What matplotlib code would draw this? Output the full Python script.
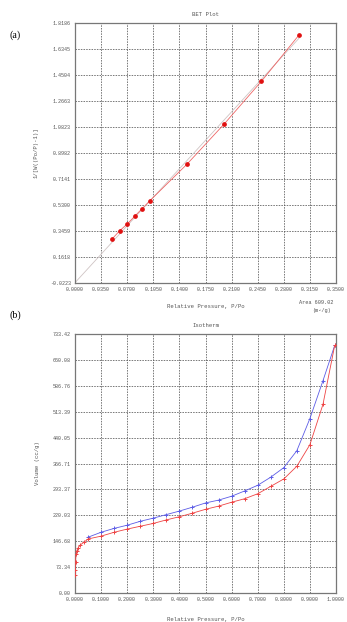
#!/usr/bin/env python3
"""BET plot and isotherm, two stacked panels."""

import matplotlib
matplotlib.use("Agg")
import matplotlib.pyplot as plt

# BET plot data
bet_p = [0.05, 0.06, 0.07, 0.08, 0.09, 0.10, 0.15, 0.20, 0.25, 0.30]
bet_y = [0.289, 0.346, 0.393, 0.448, 0.502, 0.556, 0.816, 1.101, 1.404, 1.729]
fit_p = [0.0, 0.301]
fit_y = [-0.0223, 1.712]
bet_yticks = [-0.0223, 0.1618, 0.3459, 0.5300, 0.7141, 0.8982,
              1.0823, 1.2663, 1.4504, 1.6345, 1.8186]
bet_xticks = [0.0, 0.035, 0.070, 0.105, 0.140, 0.175, 0.210, 0.245, 0.280, 0.315, 0.350]
area = "609.02"

# isotherm data
ads_p = [0.0003, 0.0008, 0.002, 0.004, 0.007, 0.012, 0.02, 0.035,
         0.05, 0.10, 0.15, 0.20, 0.25, 0.30, 0.35, 0.40, 0.45, 0.50,
         0.55, 0.60, 0.65, 0.70, 0.75, 0.80, 0.85, 0.90, 0.95, 0.995]
ads_v = [51, 65, 89, 110, 120, 128, 136, 144,
         153, 161, 172, 181, 189, 197, 207, 216, 226, 237,
         246, 257, 267, 281, 302, 323, 359, 420, 534, 701]
des_p = [0.05, 0.10, 0.15, 0.20, 0.25, 0.30, 0.35, 0.40, 0.45, 0.50,
         0.55, 0.60, 0.65, 0.70, 0.75, 0.80, 0.85, 0.90, 0.95, 0.995]
des_v = [158, 172, 183, 192, 203, 212, 222, 232, 243, 255,
         263, 274, 289, 305, 328, 355, 403, 494, 601, 701]
iso_yticks = [0.00, 73.34, 146.68, 220.03, 293.37, 366.71, 440.05,
              513.39, 586.76, 660.08, 733.42]
iso_xticks = [0.0, 0.1, 0.2, 0.3, 0.4, 0.5, 0.6, 0.7, 0.8, 0.9, 1.0]

MONO = "Liberation Mono"
TXT = "#555555"
W, H = 347, 622


def style_axes(ax, xticks, yticks, xfmt, yfmt):
    ax.set_xlim(xticks[0], xticks[-1])
    ax.set_ylim(yticks[0], yticks[-1])
    ax.set_xticks(xticks)
    ax.set_yticks(yticks)
    ax.set_xticklabels([xfmt % v for v in xticks], family=MONO, fontsize=3.6, color=TXT)
    ax.set_yticklabels([yfmt % v for v in yticks], family=MONO, fontsize=3.6, color=TXT)
    ax.tick_params(length=0, pad=3)
    ax.grid(True, color="#555555", linestyle=(0, (2, 1.5)), linewidth=0.55)
    for spine in ax.spines.values():
        spine.set_color("#777777")
        spine.set_linewidth(0.9)


fig = plt.figure(figsize=(W / 100, H / 100), dpi=100)

# (a) BET plot
ax1 = fig.add_axes([75 / W, 1 - 282.7 / H, 261 / W, 260 / H])
style_axes(ax1, bet_xticks, bet_yticks, "%.4f", "%.4f")
ax1.plot(fit_p, fit_y, color="#cfc4c4", linewidth=0.6, zorder=2)
ax1.plot(bet_p, bet_y, color="#ee6666", linewidth=0.6, zorder=3)
ax1.plot(bet_p, bet_y, linestyle="none", marker="o", markersize=2.4,
         color="#e01010", zorder=4)
ax1.set_title("BET Plot", family=MONO, fontsize=4.1, color=TXT, pad=5)
ax1.set_xlabel("Relative Pressure, P/Po", family=MONO, fontsize=4.1, color=TXT, labelpad=9)
ax1.set_ylabel("1/[W((Po/P)-1)]", family=MONO, fontsize=4.1, color=TXT, labelpad=8)
fig.text(333 / W, 1 - 303 / H, "Area " + area, family=MONO, fontsize=3.8,
         color=TXT, ha="right", va="center")
fig.text(331 / W, 1 - 310.5 / H, "(m\u00b2/g)", family=MONO, fontsize=3.8,
         color=TXT, ha="right", va="center")

# (b) isotherm
ax2 = fig.add_axes([75 / W, 1 - 593 / H, 261 / W, 259 / H])
style_axes(ax2, iso_xticks, iso_yticks, "%.4f", "%.2f")
ax2.plot(des_p, des_v, color="#5c5ce6", linewidth=0.6, marker="+",
         markersize=3, markeredgewidth=0.7, zorder=3)
ax2.plot(ads_p, ads_v, color="#ee4444", linewidth=0.6, marker="+",
         markersize=3, markeredgewidth=0.7, zorder=4)
ax2.set_title("Isotherm", family=MONO, fontsize=4.1, color=TXT, pad=5)
ax2.set_xlabel("Relative Pressure, P/Po", family=MONO, fontsize=4.1, color=TXT, labelpad=11)
ax2.set_ylabel("Volume (cc/g)", family=MONO, fontsize=4.1, color=TXT, labelpad=9)

fig.text(10 / W, 1 - 35 / H, "(a)", family="Liberation Serif", fontsize=7.2,
         ha="left", va="center")
fig.text(10 / W, 1 - 315 / H, "(b)", family="Liberation Serif", fontsize=7.2,
         ha="left", va="center")

fig.savefig("out.png", dpi=100)
